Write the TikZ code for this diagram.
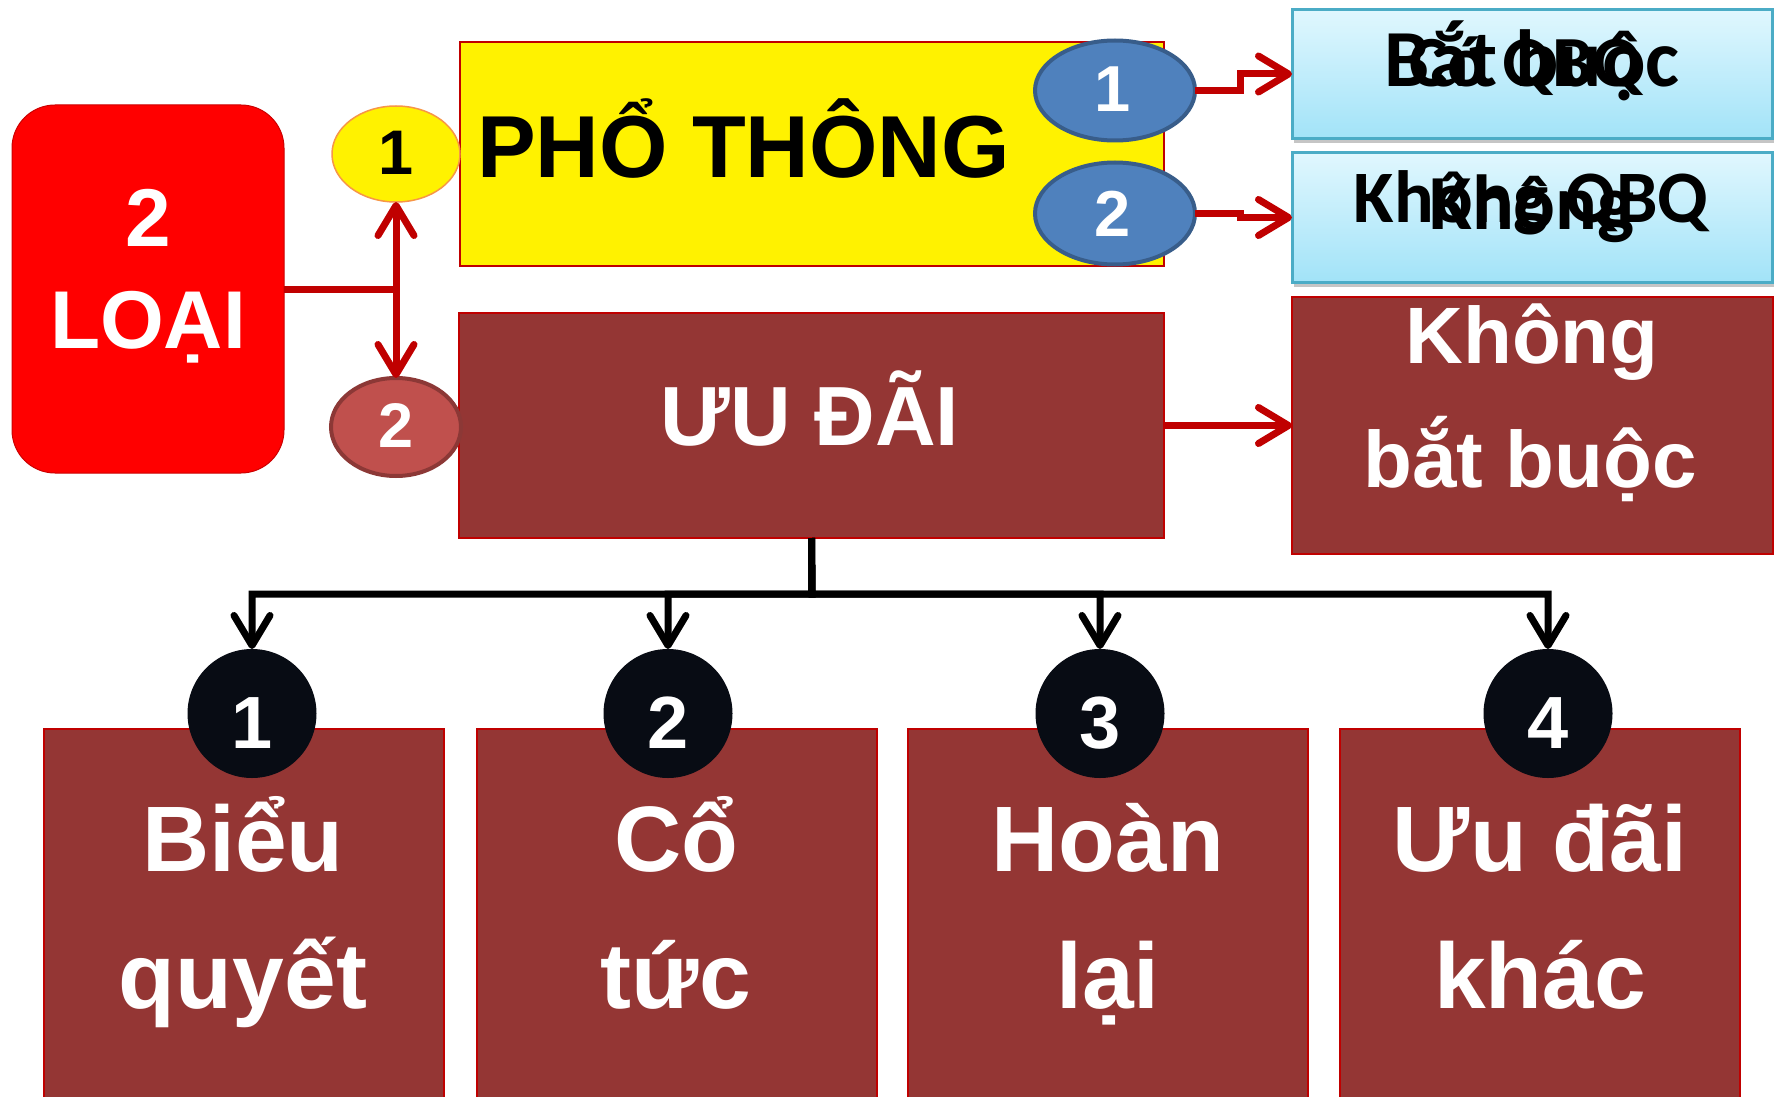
\documentclass[tikz,border=0pt]{standalone}
\usepackage{fontspec}
\setmainfont{Liberation Sans}
\newfontfamily\carl{Carlito}
\usetikzlibrary{shapes.geometric,arrows.meta,shadows}
\definecolor{dred}{HTML}{943634}
\definecolor{bord}{HTML}{C00000}
\definecolor{blu}{HTML}{4F81BD}
\definecolor{blub}{HTML}{385D8A}
\definecolor{rell}{HTML}{C0504D}
\definecolor{rellb}{HTML}{8C3836}
\definecolor{lbtop}{HTML}{E0F7FE}
\definecolor{lbbot}{HTML}{A2E3F8}
\definecolor{lbb}{HTML}{4BACC6}
\definecolor{blk}{HTML}{080C14}
\definecolor{orng}{HTML}{F79646}
\tikzset{
  box/.style={rectangle,inner sep=0,outer sep=0},
  brownbox/.style={box,fill=dred,draw=bord,line width=2pt},
  lightbox/.style={box,top color=lbtop,bottom color=lbbot,draw=lbb,line width=3pt,
     drop shadow={shadow xshift=2pt,shadow yshift=-5pt,fill=black!45}},
  oval/.style={ellipse,inner sep=0,outer sep=0},
  txt/.style={inner sep=0,outer sep=0,anchor=base,font=\bfseries},
  redarr/.style={draw=bord,line width=7pt},
  blkarr/.style={draw=black,line width=7pt},
  tip/.style={-{Straight Barb[length=30pt,width=36pt,round]}},
}
\newcommand{\fs}[1]{\fontsize{#1}{#1}\selectfont}
\begin{document}
\begin{tikzpicture}[x=1pt,y=-1pt]
\useasboundingbox[fill=white] (0,0) rectangle (1775,1097);

% bottom boxes
\node[brownbox,minimum width=400pt,minimum height=381pt] (bx1) at (244,919.5) {};
\node[brownbox,minimum width=400pt,minimum height=381pt] (bx2) at (676.5,919.5) {};
\node[brownbox,minimum width=400pt,minimum height=381pt] (bx3) at (1107.5,919.5) {};
\node[brownbox,minimum width=400pt,minimum height=381pt] (bx4) at (1539.5,919.5) {};

% main boxes
\node[box,fill=red,draw=red!80!black,line width=1pt,rounded corners=43pt,
      minimum width=272pt,minimum height=368pt] (loai) at (148,289) {};
\node[box,fill=yellow,draw=bord,line width=2pt,minimum width=704pt,minimum height=224pt] (pt) at (812,154) {};
\node[brownbox,minimum width=705pt,minimum height=225pt] (ud) at (811.5,425.5) {};
\node[brownbox,minimum width=481pt,minimum height=257pt] (kbb) at (1532.5,425.5) {};
\node[lightbox,minimum width=480pt,minimum height=129pt] (lb1) at (1532,74) {};
\node[lightbox,minimum width=480pt,minimum height=129pt] (lb2) at (1532,217.5) {};

% ovals
\node[oval,fill=yellow,draw=orng,line width=1.5pt,minimum width=128pt,minimum height=96pt] (e1) at (396,154) {};
\node[oval,fill=rell,draw=rellb,line width=4pt,minimum width=130pt,minimum height=98pt] (e2) at (396,427) {};
\node[oval,fill=blu,draw=blub,line width=4pt,minimum width=160pt,minimum height=100pt] (b1) at (1115,90.5) {};
\node[oval,fill=blu,draw=blub,line width=4pt,minimum width=160pt,minimum height=102pt] (b2) at (1115,213.5) {};

% circles
\foreach \i/\x in {1/252,2/668,3/1100,4/1548}{
  \node[circle,fill=blk,inner sep=0,outer sep=0,minimum size=129pt] (c\i) at (\x,713.5) {};
}

% red connectors
\coordinate (j) at (396,289);
\draw[redarr] (loai.east) -- (j);
\draw[redarr,{Straight Barb[length=30pt,width=36pt,round]}-{Straight Barb[length=30pt,width=36pt,round]}] (e1.south) -- (e2.north);
\draw[redarr,tip] (b1.east) -- ++(45,0) |- (lb1.west);
\draw[redarr,tip] (b2.east) -- ++(45,0) |- (lb2.west);
\draw[redarr,tip] (ud.east) -- (kbb.west);

% black connectors
\coordinate (hy) at (812,594);
\foreach \i in {1,2,3,4}{
  \draw[blkarr,tip] (ud.south) -- (hy) -| (c\i.north);
}

% texts
\node[txt,text=white,font=\bfseries\fs{82}] (t2) at (148,246) {2};
\node[txt,text=white,font=\bfseries\fs{82}] (tloai) at (148,348) {LOẠI};
\node[txt,anchor=base west,font=\bfseries\fs{88}] (tpt) at (477,177) {PHỔ THÔNG};
\node[txt,text=white,font=\bfseries\fs{84}] (tud) at (810,445) {ƯU ĐÃI};
\node[txt,font=\bfseries\fs{63}] (te1) at (396,175) {1};
\node[txt,text=white,font=\bfseries\fs{63}] (te2) at (396,447) {2};
\node[txt,text=white,font=\bfseries\fs{65}] (tb1) at (1113,112) {1};
\node[txt,text=white,font=\bfseries\fs{65}] (tb2) at (1113,236) {2};

\node[txt,font=\carl\bfseries\fs{81}] (tl1a) at (1532,87) {Bắt buộc};
\node[txt,font=\carl\bfseries\fs{72}] (tl1b) at (1526,87) {Có QBQ};
\node[txt,font=\carl\bfseries\fs{74}] (tl2a) at (1531,222) {Không QBQ};
\node[txt,font=\carl\bfseries\fs{78}] (tl2b) at (1532,229) {Không};

\node[txt,text=white,font=\bfseries\fs{80}] (tk1) at (1532,363) {Không};
\node[txt,text=white,font=\bfseries\fs{80}] (tk2) at (1530,487) {bắt buộc};

\foreach \i/\x in {1/252,2/668,3/1100,4/1548}{
  \node[txt,text=white,font=\bfseries\fs{74}] (n\i) at (\x,748) {\i};
}

\node[txt,text=white,font=\bfseries\fs{93}] (b1a) at (243,871) {Biểu};
\node[txt,text=white,font=\bfseries\fs{93}] (b1b) at (243,1008) {quyết};
\node[txt,text=white,font=\bfseries\fs{93}] (b2a) at (676,871) {Cổ};
\node[txt,text=white,font=\bfseries\fs{93}] (b2b) at (676,1008) {tức};
\node[txt,text=white,font=\bfseries\fs{93}] (b3a) at (1108,871) {Hoàn};
\node[txt,text=white,font=\bfseries\fs{93}] (b3b) at (1108,1008) {lại};
\node[txt,text=white,font=\bfseries\fs{93}] (b4a) at (1540,871) {Ưu đãi};
\node[txt,text=white,font=\bfseries\fs{93}] (b4b) at (1540,1008) {khác};
\end{tikzpicture}
\end{document}
